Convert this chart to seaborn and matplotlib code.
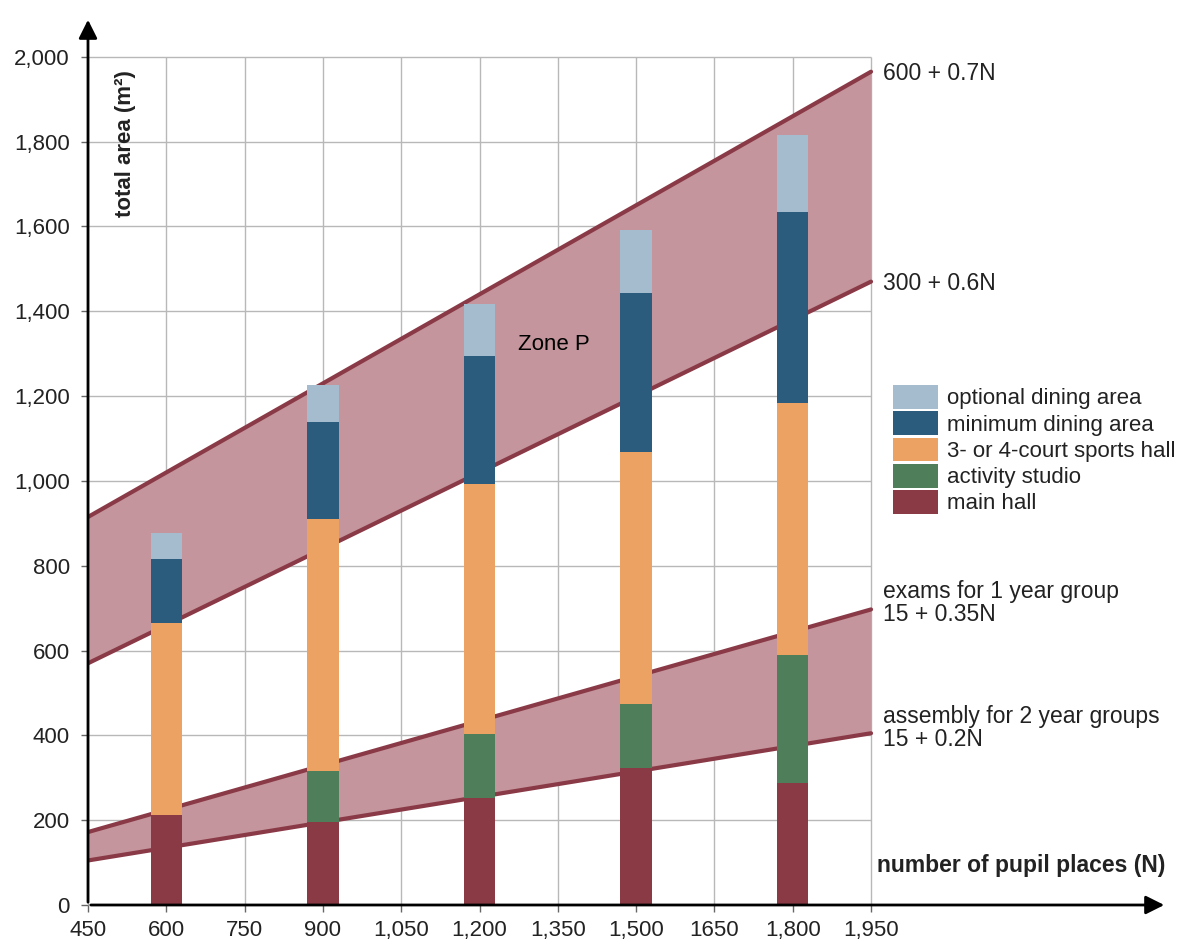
import numpy as np
import pandas as pd
import seaborn as sns
import matplotlib.pyplot as plt
from matplotlib.patches import Patch

# pupil places for each stacked bar
places = [600, 900, 1200, 1500, 1800]
main_hall = [212, 196, 252, 323, 288]
activity_studio = [0, 120, 151, 151, 302]
sports_hall = [453, 594, 590, 594, 594]
min_dining = [151, 229, 302, 375, 450]
opt_dining = [61, 87, 122, 149, 182]

# band edges read at N = 450 and N = 1950
band_n = [450, 1950]
upper_top = [915, 1965]
upper_bottom = [570, 1470]
lower_top = [172, 697]
lower_bottom = [105, 405]

x_ticks = [450, 600, 750, 900, 1050, 1200, 1350, 1500, 1650, 1800, 1950]
x_labels = ["450", "600", "750", "900", "1,050", "1,200", "1,350", "1,500", "1650", "1,800", "1,950"]
y_ticks = [0, 200, 400, 600, 800, 1000, 1200, 1400, 1600, 1800, 2000]
y_labels = ["0", "200", "400", "600", "800", "1,000", "1,200", "1,400", "1,600", "1,800", "2,000"]

layers = ["main hall", "activity studio", "3- or 4-court sports hall",
          "minimum dining area", "optional dining area"]
colors = ["#893a44", "#4f7f5a", "#eba262", "#2b5c7e", "#a4bccd"]
band_fill = "#c4959c"
band_line = "#8a3a47"
text_col = "#222222"

sns.set_style("white")
plt.rcParams["font.family"] = ["Liberation Sans", "DejaVu Sans"]

fig = plt.figure(figsize=(11.9, 9.4), dpi=100)
ax = fig.add_axes([88 / 1190, 35 / 940, 1079 / 1190, 888 / 940])
XMAX, YMAX = 2517, 2094

# grid only inside the 450-1950 / 0-2000 box
ax.vlines(x_ticks, 0, 2000, color="#b8b8b8", lw=1, zorder=0)
ax.hlines(y_ticks, 450, 1950, color="#b8b8b8", lw=1, zorder=0)

# bands
ax.fill_between(band_n, upper_bottom, upper_top, color=band_fill, lw=0, zorder=1)
ax.fill_between(band_n, lower_bottom, lower_top, color=band_fill, lw=0, zorder=1)
for edge in [upper_top, upper_bottom, lower_top, lower_bottom]:
    sns.lineplot(x=band_n, y=edge, color=band_line, lw=3, ax=ax, zorder=2)

# stacked bars, drawn tallest first so each layer covers the one above
df = pd.DataFrame({"N": places, "main hall": main_hall,
                   "activity studio": activity_studio,
                   "3- or 4-court sports hall": sports_hall,
                   "minimum dining area": min_dining,
                   "optional dining area": opt_dining})
cum = df[layers].cumsum(axis=1)
for layer, col in reversed(list(zip(layers, colors))):
    sns.barplot(x=df["N"], y=cum[layer], native_scale=True, orient="x",
                width=0.2, color=col, saturation=1, errorbar=None,
                linewidth=0, ax=ax, zorder=3)

ax.set_xlim(450, XMAX)
ax.set_ylim(0, YMAX)
ax.set_xticks(x_ticks)
ax.set_xticklabels(x_labels)
ax.set_yticks(y_ticks)
ax.set_yticklabels(y_labels)
ax.tick_params(axis="both", labelsize=16, length=5, width=1, color="#666666",
               labelcolor=text_col, direction="out", bottom=True, left=True)
ax.tick_params(axis="x", pad=6)
ax.tick_params(axis="y", pad=8)
ax.set_xlabel("")
ax.set_ylabel("")
for s in ax.spines.values():
    s.set_visible(False)

# axis arrows
ax.annotate("", xy=(1, 0), xytext=(0, 0), xycoords="axes fraction",
            arrowprops=dict(arrowstyle="-|>", color="black", lw=2, mutation_scale=28))
ax.annotate("", xy=(0, 1), xytext=(0, 0), xycoords="axes fraction",
            arrowprops=dict(arrowstyle="-|>", color="black", lw=2, mutation_scale=28))

ax.text(521, 1969, "total area (m²)", rotation=90, ha="center", va="top",
        fontsize=16, fontweight="bold", color=text_col)
ax.text(1961, 92, "number of pupil places (N)", ha="left", va="center",
        fontsize=16.5, fontweight="bold", color=text_col)
ax.text(1274, 1321, "Zone P", ha="left", va="center", fontsize=16, color="black")

ax.text(1973, 1960, "600 + 0.7N", ha="left", va="center", fontsize=16.5, color=text_col)
ax.text(1973, 1465, "300 + 0.6N", ha="left", va="center", fontsize=16.5, color=text_col)
ax.text(1973, 712, "exams for 1 year group\n15 + 0.35N", ha="left", va="center",
        fontsize=16.5, color=text_col, linespacing=1.0)
ax.text(1973, 418, "assembly for 2 year groups\n15 + 0.2N", ha="left", va="center",
        fontsize=16.5, color=text_col, linespacing=1.0)

handles = [Patch(facecolor=c, edgecolor="none", label=l)
           for l, c in reversed(list(zip(layers, colors)))]
fig.legend(handles=handles, loc="upper left", bbox_to_anchor=(893 / 1190, 1 - 385 / 940),
           frameon=False, fontsize=16, labelcolor=text_col, handlelength=2.03,
           handleheight=1.26, handletextpad=0.4, labelspacing=0.09,
           borderaxespad=0, borderpad=0)

fig.savefig("out.png", dpi=100)
